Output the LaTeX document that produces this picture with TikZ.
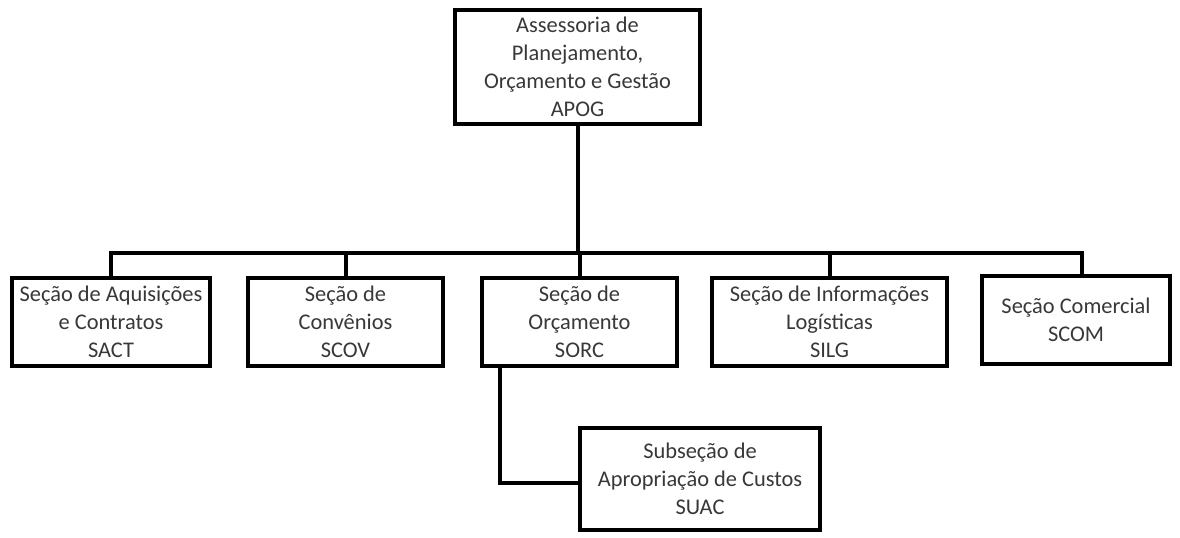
\documentclass[tikz,border=0pt]{standalone}
\usepackage{fontspec}
\setmainfont{Carlito}
\begin{document}
\begin{tikzpicture}[x=0.75pt,y=-0.75pt,
  box/.style={draw=black,line width=3pt,fill=white,align=center,inner sep=0pt,
    font=\fontsize{16.8}{21}\selectfont,text=black!78},
  link/.style={line width=3pt}]
\useasboundingbox (0,0) rectangle (1180,537);
\node[box,minimum width=183.75pt,minimum height=85.5pt] (apog) at (577.5,67) {Assessoria de\\Planejamento,\\Orçamento e Gestão\\APOG};
\node[box,minimum width=148.5pt,minimum height=66pt] (sact) at (111,322) {Seção de Aquisições\\e Contratos\\SACT};
\node[box,minimum width=146.25pt,minimum height=66pt] (scov) at (345.5,322) {Seção de\\Convênios\\SCOV};
\node[box,minimum width=146.25pt,minimum height=66pt] (sorc) at (579.5,322) {Seção de\\Orçamento\\SORC};
\node[box,minimum width=176.25pt,minimum height=66pt] (silg) at (829.5,322) {Seção de Informações\\Logísticas\\SILG};
\node[box,minimum width=141pt,minimum height=66pt] (scom) at (1076,320) {Seção Comercial\\SCOM};
\node[box,minimum width=180pt,minimum height=76.5pt] (suac) at (700,479) {Subseção de\\Apropriação de Custos\\SUAC};
\coordinate (bus) at (0,253);
\draw[link] (apog.south) -- (apog.south |- bus);
\draw[link] (sact.north) -- (sact.north |- bus) -- ([xshift=4.5pt]scom.north |- bus) -- ([xshift=4.5pt]scom.north);
\draw[link] (scov.north) -- (scov.north |- bus);
\draw[link] (sorc.north) -- (sorc.north |- bus);
\draw[link] (silg.north) -- (silg.north |- bus);
\draw[link] ([xshift=15pt]sorc.south west) |- ([yshift=-3pt]suac.west);
\end{tikzpicture}
\end{document}
